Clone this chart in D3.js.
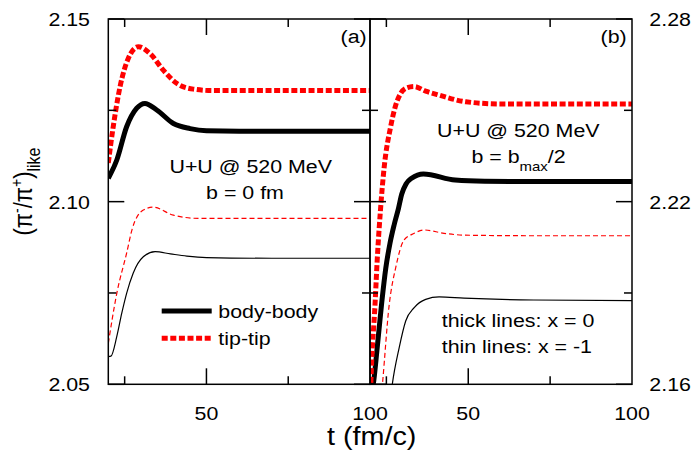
<!DOCTYPE html>
<html>
<head>
<meta charset="utf-8">
<script src="https://cdn.jsdelivr.net/npm/d3@7"></script>
<style>
  html, body { margin: 0; padding: 0; background: #fff; }
  svg { display: block; }
  text { font-family: "Liberation Sans", Arial, sans-serif; fill: #000; }
</style>
</head>
<body>
<svg id="chart" width="693" height="452"></svg>
<script>
// ---- time axis (fm/c) ----
const tDomain = [20, 100];
const tMajorTicks = [50, 100];
const tMinorTicks = [25, 75];

// ---- panel (a): U+U @ 520 MeV, b = 0 fm ----
const yDomainA = [2.05, 2.15];
const yMajorA = [2.05, 2.10, 2.15];
const yMinorA = [2.075, 2.125];
const yLabelsA = ["2.05", "2.10", "2.15"];

// body-body, x = 0 (thick solid)
const tA_body0 = [20, 22.6, 25.6, 28.7, 31.2, 34.8, 39.9, 45, 50, 60, 80, 100];
const vA_body0 = [2.1064, 2.1114, 2.1205, 2.1256, 2.1269, 2.1251, 2.1214, 2.1200, 2.1194, 2.1193, 2.1193, 2.1193];
// tip-tip, x = 0 (thick dashed)
const tA_tip0 = [20, 21.5, 23.6, 26.1, 29.2, 32.7, 36.8, 40.9, 46, 52, 70, 100];
const vA_tip0 = [2.1106, 2.1205, 2.1315, 2.1392, 2.1424, 2.1406, 2.1360, 2.1324, 2.1308, 2.1304, 2.1304, 2.1304];
// body-body, x = -1 (thin solid)
const tA_body1 = [20, 20.8, 22.6, 24.1, 25.6, 27.6, 30.7, 34.3, 39, 44, 50, 70, 100];
const vA_body1 = [2.0576, 2.0577, 2.0631, 2.0694, 2.0749, 2.0804, 2.0849, 2.0863, 2.0857, 2.0851, 2.0847, 2.0845, 2.0845];
// tip-tip, x = -1 (thin dashed)
const tA_tip1 = [20, 22.6, 25.6, 27.3, 30.7, 33.7, 39.9, 48, 70, 100];
const vA_tip1 = [2.0612, 2.0749, 2.0859, 2.0925, 2.0977, 2.0985, 2.0963, 2.0954, 2.0954, 2.0954];

// ---- panel (b): U+U @ 520 MeV, b = bmax/2 ----
const yDomainB = [2.16, 2.28];
const yMajorB = [2.16, 2.22, 2.28];
const yMinorB = [2.19, 2.25];
const yLabelsB = ["2.16", "2.22", "2.28"];

const tB_body0 = [20, 21, 22.2, 23.6, 24.8, 26.1, 27.4, 28.7, 29.7, 31, 32.7, 36.3, 46, 55, 70, 100];
const vB_body0 = [2.156, 2.16, 2.172, 2.187, 2.198, 2.2063, 2.2125, 2.2178, 2.2225, 2.2258, 2.2277, 2.2291, 2.2271, 2.2267, 2.2266, 2.2266];
const tB_tip0 = [20, 20.5, 21.5, 22.2, 23.2, 24.3, 26.3, 27.8, 29.4, 31.3, 33.5, 37, 41.1, 49.3, 60, 100];
const vB_tip0 = [2.152, 2.167, 2.1855, 2.2008, 2.2173, 2.231, 2.2446, 2.2515, 2.2556, 2.2574, 2.2578, 2.2563, 2.2550, 2.2528, 2.2521, 2.2521];
const tB_body1 = [26.2, 26.8, 28.9, 30.9, 33.5, 37, 41.1, 48.7, 70, 100];
const vB_body1 = [2.155, 2.16, 2.172, 2.1808, 2.1852, 2.1879, 2.1887, 2.1883, 2.1877, 2.1875];
const tB_tip1 = [23.2, 23.8, 25.8, 27.9, 30.4, 33.5, 36.5, 42.6, 48.7, 70, 100];
const vB_tip1 = [2.153, 2.16, 2.1855, 2.1986, 2.2074, 2.2096, 2.2107, 2.2096, 2.2090, 2.2088, 2.2088];

// ---- layout ----
const plotTop = 19, plotBottom = 384.3;
const panelA = { x0: 108.3, x1: 370 };
const panelB = { x0: 370, x1: 632 };
const SX = 1.15;            // horizontal glyph stretch
const FS = 18.6;            // base font size
const MAJOR = 16, MINOR = 8;

const svg = d3.select("#chart");

function txt(parent, x, y, anchor, size) {
  return parent.append("text")
    .attr("transform", `translate(${x},${y}) scale(${SX},1)`)
    .attr("text-anchor", anchor)
    .attr("font-size", size);
}

function zip(ts, vs) { return ts.map((t, i) => [t, vs[i]]); }

function drawPanel(p, yDomain, series, id) {
  const x = d3.scaleLinear().domain(tDomain).range([p.x0, p.x1]);
  const y = d3.scaleLinear().domain(yDomain).range([plotBottom, plotTop]);

  svg.append("clipPath").attr("id", id)
    .append("rect").attr("x", p.x0).attr("y", plotTop)
    .attr("width", p.x1 - p.x0).attr("height", plotBottom - plotTop);

  const line = d3.line().x(d => x(d[0])).y(d => y(d[1])).curve(d3.curveMonotoneX);
  const g = svg.append("g").attr("clip-path", `url(#${id})`);
  series.forEach(s => {
    g.append("path").datum(zip(s.t, s.v))
      .attr("d", line)
      .attr("fill", "none")
      .attr("stroke", s.color)
      .attr("stroke-width", s.width)
      .attr("stroke-dasharray", s.dash || null)
      .attr("stroke-linejoin", "round");
  });
  return { x, y };
}

const thick0 = (t, v) => ({ t, v, color: "#000", width: 5 });
const tip0 = (t, v) => ({ t, v, color: "#ff0000", width: 5, dash: "6,2.6" });
const thin1 = (t, v) => ({ t, v, color: "#000", width: 1.2 });
const tip1 = (t, v) => ({ t, v, color: "#ff0000", width: 1.2, dash: "5,3" });

const sa = drawPanel(panelA, yDomainA, [
  thin1(tA_body1, vA_body1), tip1(tA_tip1, vA_tip1),
  thick0(tA_body0, vA_body0), tip0(tA_tip0, vA_tip0)
], "clipA");
const sb = drawPanel(panelB, yDomainB, [
  thin1(tB_body1, vB_body1), tip1(tB_tip1, vB_tip1),
  thick0(tB_body0, vB_body0), tip0(tB_tip0, vB_tip0)
], "clipB");

// ---- frames and inward ticks ----
function frameAndTicks(p, s, yMajor, yMinor) {
  const g = svg.append("g").attr("stroke", "#000").attr("stroke-width", 1.5).attr("fill", "none");
  g.append("rect").attr("x", p.x0).attr("y", plotTop)
    .attr("width", p.x1 - p.x0).attr("height", plotBottom - plotTop);
  const tk = (x1, y1, x2, y2) => g.append("line").attr("x1", x1).attr("y1", y1).attr("x2", x2).attr("y2", y2);
  tMajorTicks.forEach(t => { if (t < tDomain[1]) { tk(s.x(t), plotBottom, s.x(t), plotBottom - MAJOR); tk(s.x(t), plotTop, s.x(t), plotTop + MAJOR); } });
  tMinorTicks.forEach(t => { tk(s.x(t), plotBottom, s.x(t), plotBottom - MINOR); tk(s.x(t), plotTop, s.x(t), plotTop + MINOR); });
  yMajor.forEach(v => { const yy = s.y(v); tk(p.x0, yy, p.x0 + MAJOR, yy); tk(p.x1, yy, p.x1 - MAJOR, yy); });
  yMinor.forEach(v => { const yy = s.y(v); tk(p.x0, yy, p.x0 + MINOR, yy); tk(p.x1, yy, p.x1 - MINOR, yy); });
}
frameAndTicks(panelA, sa, yMajorA, yMinorA);
frameAndTicks(panelB, sb, yMajorB, yMinorB);

// ---- tick labels ----
yMajorA.forEach((v, i) => txt(svg, 90, sa.y(v) + 7, "end", FS).text(yLabelsA[i]));
yMajorB.forEach((v, i) => txt(svg, 649.3, sb.y(v) + 7, "start", FS).text(yLabelsB[i]));
tMajorTicks.forEach(t => {
  txt(svg, sa.x(t), 420, "middle", FS).text(String(t));
  txt(svg, sb.x(t), 420, "middle", FS).text(String(t));
});

// ---- axis titles ----
txt(svg, 371.7, 445, "middle", 25).text("t (fm/c)");

const yt = svg.append("text")
  .attr("transform", `translate(32,191.5) scale(${SX},1) rotate(-90)`)
  .attr("text-anchor", "middle")
  .attr("font-size", 22);
yt.append("tspan").text("(\u03C0");
yt.append("tspan").attr("dy", -9).attr("font-size", 14).text("-");
yt.append("tspan").attr("dy", 9).text("/\u03C0");
yt.append("tspan").attr("dy", -9).attr("font-size", 14).text("+");
yt.append("tspan").attr("dy", 9).text(")");
yt.append("tspan").attr("dy", 7).attr("font-size", 16).text("like");

// ---- panel labels and annotations ----
txt(svg, 366.7, 43, "end", FS).text("(a)");
txt(svg, 626.7, 43, "end", FS).text("(b)");

txt(svg, 250.7, 173, "middle", FS).text("U+U @ 520 MeV");
txt(svg, 245, 199.3, "middle", FS).text("b = 0 fm");

txt(svg, 518.3, 136.7, "middle", FS).text("U+U @ 520 MeV");
const bb = txt(svg, 518.5, 162.7, "middle", FS);
bb.append("tspan").text("b = b");
bb.append("tspan").attr("dy", 8).attr("font-size", 13).text("max");
bb.append("tspan").attr("dy", -8).text("/2");

txt(svg, 441.7, 327.3, "start", FS).text("thick lines: x = 0");
txt(svg, 441.7, 353.3, "start", FS).text("thin lines: x = -1");

// ---- legend ----
const legend = [
  { label: "body-body", color: "#000", dash: null, y: 311, base: 318.3 },
  { label: "tip-tip", color: "#ff0000", dash: "6,2.6", y: 338.3, base: 345.3 }
];
legend.forEach(d => {
  svg.append("line").attr("x1", 161.7).attr("x2", 211.7).attr("y1", d.y).attr("y2", d.y)
    .attr("stroke", d.color).attr("stroke-width", 5).attr("stroke-dasharray", d.dash);
  txt(svg, 218.3, d.base, "start", FS).text(d.label);
});
</script>
</body>
</html>
